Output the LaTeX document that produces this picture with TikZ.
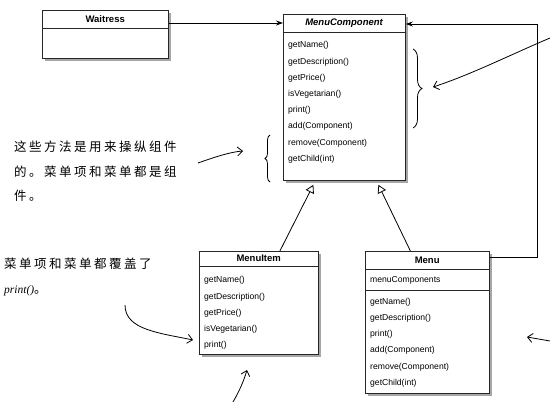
\documentclass[tikz,border=0pt]{standalone}
\usepackage{fontspec}
\setmainfont{Liberation Sans}
\newfontfamily\cjk[LetterSpace=20]{Noto Sans CJK SC}
\newfontfamily\notoserif{Liberation Serif}
\usetikzlibrary{arrows.meta, positioning, shadows, decorations.pathreplacing, calc}

\begin{document}
\begin{tikzpicture}[
    x=1pt, y=-1pt,
    >={Stealth[length=7pt, width=5pt]},
    font=\fontsize{8.6}{16.2}\selectfont,
    classbox/.style={draw=black!85, fill=white, line width=0.8pt, anchor=north west, inner sep=0pt,
      drop shadow={shadow xshift=3pt, shadow yshift=-3pt, opacity=0.7, fill=black!50}},
    classhead/.style={anchor=north west, inner sep=0pt, font=\fontsize{9.5}{11}\selectfont\bfseries},
    attrpart/.style={anchor=north west, inner xsep=5pt, inner ysep=0pt, align=left},
    members/.style={anchor=north west, align=left, inner xsep=5pt, inner ysep=0pt},
    rule/.style={line width=0.7pt, black!85},
    assoc/.style={->, line width=0.9pt},
    inherit/.style={-{Triangle[open, length=8pt, width=9pt]}, line width=0.8pt},
    hand/.style={-{Straight Barb[length=5pt, width=9pt]}, line width=0.8pt},
    handbrace/.style={decorate, decoration={brace, amplitude=#1}, line width=0.8pt},
    note/.style={anchor=north west, align=left, inner sep=0pt, font=\cjk\fontsize{12.5}{24.5}\selectfont}
  ]
    \useasboundingbox (0,0) rectangle (550,402);

    % class boxes
    \node[classbox, minimum width=126pt, minimum height=48pt] (wait) at (42,10) {};
    \node[classhead, minimum width=126pt, minimum height=18pt] (waithead) at (wait.north west) {Waitress};
    \draw[rule] (waithead.south west) -- (waithead.south east);

    \node[classbox, minimum width=122pt, minimum height=166pt] (comp) at (283,14) {};
    \node[classhead, minimum width=122pt, minimum height=18pt] (comphead) at (comp.north west) {\textit{MenuComponent}};
    \draw[rule] (comphead.south west) -- (comphead.south east);
    \node[members, below right=9pt and 0pt of comphead.south west] (compops)
    {getName()\\ getDescription()\\ getPrice()\\ isVegetarian()\\ print()\\
     add(Component)\\ remove(Component)\\ getChild(int)};

    \node[classbox, minimum width=119pt, minimum height=103pt] (mi) at (199,251) {};
    \node[classhead, minimum width=119pt, minimum height=15pt] (mihead) at (mi.north west) {MenuItem};
    \draw[rule] (mihead.south west) -- (mihead.south east);
    \node[members, below right=10pt and 0pt of mihead.south west] (miops)
    {getName()\\ getDescription()\\ getPrice()\\ isVegetarian()\\ print()};

    \node[classbox, minimum width=124pt, minimum height=142pt] (menu) at (365,251) {};
    \node[classhead, minimum width=124pt, minimum height=18pt] (menuhead) at (menu.north west) {Menu};
    \draw[rule] (menuhead.south west) -- (menuhead.south east);
    \node[attrpart, text width=114pt, minimum height=21pt] (menuattr) at (menuhead.south west) {menuComponents};
    \draw[rule] (menuattr.south west) -- (menuattr.south east);
    \node[members, below right=7pt and 0pt of menuattr.south west] (menuops)
    {getName()\\ getDescription()\\ print()\\ add(Component)\\ remove(Component)\\ getChild(int)};

    % relations
    \coordinate (waitout) at ([yshift=-13pt]wait.north east);
    \draw[assoc] (waitout) -- (waitout -| comp.west);
    \draw[assoc] ([yshift=-6pt]menu.north east) -- ++(48,0) |- ([yshift=-10pt]comp.north east);
    \draw[inherit] ([xshift=21pt]mi.north) -- ([xshift=-31pt, yshift=-4pt]comp.south);
    \draw[inherit] ([xshift=-17pt]menu.north) -- ([xshift=34pt, yshift=-4pt]comp.south);

    % handwritten notes
    \node[note] (note1) at (14,141)
    {这些方法是用来操纵组件\\ 的。菜单项和菜单都是组\\ 件。};
    \node[note] (note2) at (4,258)
    {菜单项和菜单都覆盖了\\ {\notoserif\itshape\fontsize{11.5}{12}\selectfont print()}。};

    \draw[handbrace=5pt] (270,182) -- (270,135);
    \draw[handbrace=9pt] (413,49) -- (413,128);

    \coordinate (n1tail) at (198,163);
    \coordinate (n1tip) at (243,151);
    \draw[hand] (n1tail) .. controls (215,157) and (230,152) .. (n1tip);
    \coordinate (rtail) at (550,38);
    \coordinate (rtip) at (433,87);
    \draw[hand] (rtail) .. controls (510,55) and (470,75) .. (rtip);
    \coordinate (n2tail) at (125,305);
    \draw[hand] (n2tail) .. controls (125,330) and (160,333) .. ([xshift=-6pt]miops.west |- 0,340);
    \coordinate (btail) at (233,402);
    \coordinate (btip) at (247,370);
    \draw[hand] (btail) .. controls (240,390) and (244,380) .. (btip);
    \coordinate (brtail) at (550,341);
    \coordinate (brtip) at (527,337);
    \draw[hand] (brtail) -- (brtip);
  \end{tikzpicture}
\end{document}
